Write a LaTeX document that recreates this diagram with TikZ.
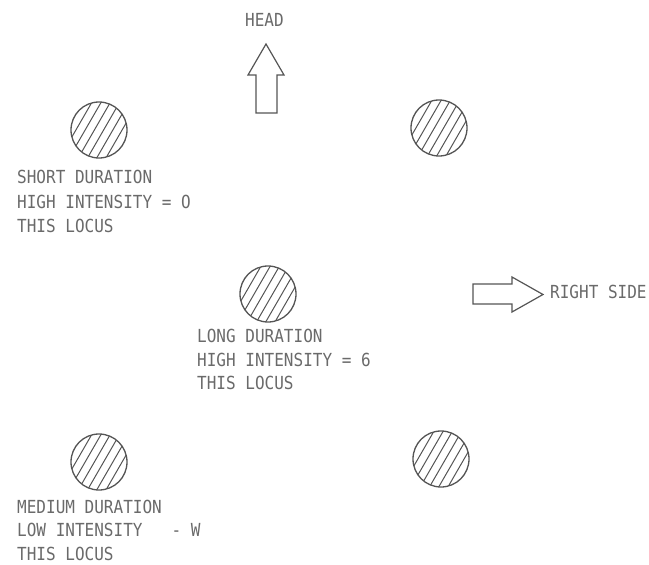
\documentclass[tikz,border=0pt]{standalone}
\usepackage{fontspec}
\newfontfamily\plotfont[FakeStretch=0.89]{DejaVu Sans Mono}
\definecolor{inkgray}{HTML}{6A6A6A}
\definecolor{linegray}{HTML}{555555}
\begin{document}
\begin{tikzpicture}[x=1pt,y=-1pt,
  lbl/.style={anchor=west, inner sep=0pt, text=inkgray, font=\plotfont\fontsize{18}{24}\selectfont},
  hatchc/.style={circle, draw=linegray, line width=1.3pt, minimum size=56pt, inner sep=0pt,
    path picture={\foreach \d in {-28,-20,...,28}{
      \draw[line width=1pt, draw=linegray]
        ([shift={(\d*0.866,\d*0.5)}]path picture bounding box.center) ++(-20,34.64) -- ++(40,-69.28);}}},
  blockarrow/.style={draw=linegray, line width=1.2pt, fill=white, line join=miter}
]
\useasboundingbox (0,0) rectangle (649,565);
% circles
\node[hatchc] (c1) at (99,130) {};
\node[hatchc] (c2) at (439,128) {};
\node[hatchc] (c3) at (268,294) {};
\node[hatchc] (c4) at (99,462) {};
\node[hatchc] (c5) at (441,459) {};
% head arrow
\draw[blockarrow] (256,113) -- (256,75) -- (248,75) -- (266,44) -- (284,75) -- (277,75) -- (277,113) -- cycle;
\node[lbl] (head) at (245,20) {HEAD};
% right side arrow
\draw[blockarrow] (473,284) -- (512,284) -- (512,277) -- (543,294.5) -- (512,312) -- (512,304) -- (473,304) -- cycle;
\node[lbl] (right) at (550,292) {RIGHT SIDE};
% top-left block
\node[lbl] (t1a) at (17,177) {SHORT DURATION};
\node[lbl] (t1b) at (17,202) {HIGH INTENSITY = O};
\node[lbl] (t1c) at (17,226) {THIS LOCUS};
% center block
\node[lbl] (t2a) at (197,336) {LONG DURATION};
\node[lbl] (t2b) at (197,360) {HIGH INTENSITY = 6};
\node[lbl] (t2c) at (197,383) {THIS LOCUS};
% bottom-left block
\node[lbl] (t3a) at (17,507) {MEDIUM DURATION};
\node[lbl] (t3b) at (17,530) {LOW INTENSITY\ \ \ - W};
\node[lbl] (t3c) at (17,554) {THIS LOCUS};
\end{tikzpicture}
\end{document}
